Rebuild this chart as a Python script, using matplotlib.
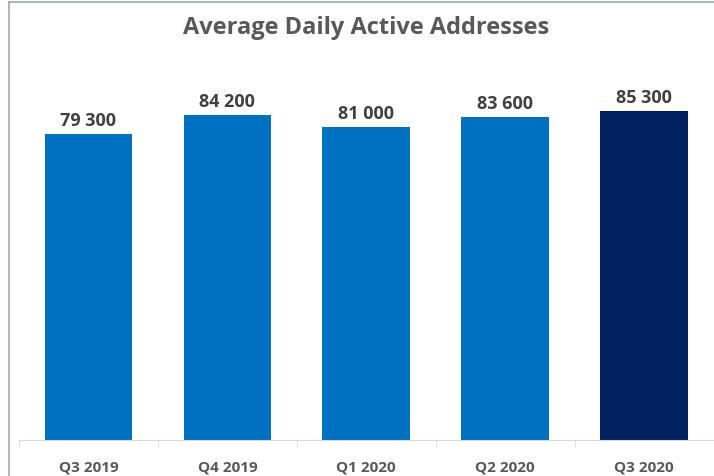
import matplotlib.pyplot as plt
from matplotlib.lines import Line2D

quarters = ['Q3 2019', 'Q4 2019', 'Q1 2020', 'Q2 2020', 'Q3 2020']
addresses = [79300, 84200, 81000, 83600, 85300]
labels = ['79 300', '84 200', '81 000', '83 600', '85 300']
colors = ['#0070C0', '#0070C0', '#0070C0', '#0070C0', '#002060']

plt.rcParams['font.family'] = ['Open Sans', 'DejaVu Sans']

fig = plt.figure(figsize=(7.14, 4.77), dpi=100)
ax = fig.add_axes([19 / 714, 36 / 477, 694.5 / 714, 386 / 477])

x = list(range(len(quarters)))
bars = ax.bar(x, addresses, width=0.63, color=colors)
for b, lab in zip(bars, labels):
    ax.text(b.get_x() + b.get_width() / 2, b.get_height() + 1300, lab,
            ha='center', va='bottom', fontsize=13, fontweight='bold', color='#404040')

ax.set_xlim(-0.5, len(quarters) - 0.5)
ax.set_ylim(0, 100000)
ax.set_yticks([])
ax.set_xticks(x)
ax.set_xticklabels(quarters, fontsize=11, fontweight='bold', color='#595959')
ax.tick_params(axis='x', length=0, pad=14)
# category separators on the axis
ax.set_xticks([i - 0.5 for i in range(len(quarters) + 1)], minor=True)
ax.tick_params(axis='x', which='minor', length=5, color='#D9D9D9', direction='out')
for s in ['top', 'right', 'left']:
    ax.spines[s].set_visible(False)
ax.spines['bottom'].set_color('#D9D9D9')

fig.text(366 / 714, 1 - 28 / 477, 'Average Daily Active Addresses', ha='center', va='center',
         fontsize=17, fontweight='bold', color='#595959')

# outer frame lines (top and left)
fig.add_artist(Line2D([9 / 714, 1], [1 - 3 / 477, 1 - 3 / 477], color='#9AAAB8', lw=1.2))
fig.add_artist(Line2D([9 / 714, 9 / 714], [0, 1 - 3 / 477], color='#9AAAB8', lw=1.2))

fig.savefig('out.png', dpi=100)
